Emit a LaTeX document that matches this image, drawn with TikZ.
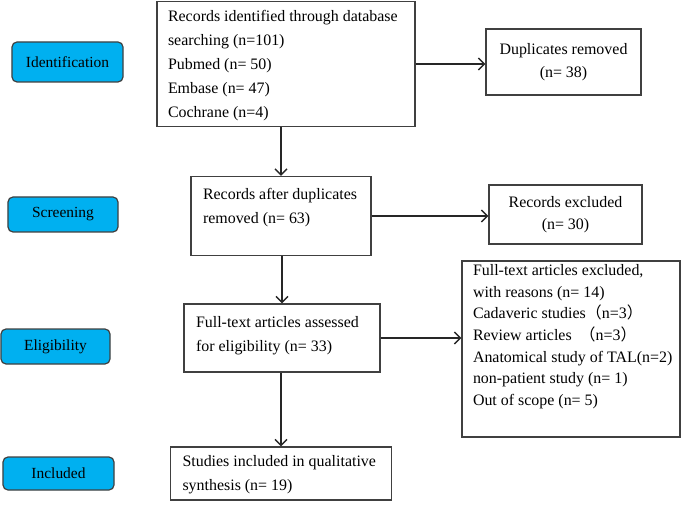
\documentclass[tikz,border=0pt]{standalone}
\usepackage{fontspec}
\setmainfont{Liberation Serif}
\newfontfamily\cjk{Noto Sans CJK SC}
\usetikzlibrary{arrows.meta}
\definecolor{stagecyan}{RGB}{0,176,240}
\definecolor{boxgray}{RGB}{64,64,64}
\newcommand{\lines}[1]{\begin{tabular}[t]{@{}l@{}}#1\end{tabular}}

\begin{document}
\begin{tikzpicture}[
		x = 1bp, y = -1bp, % pixel grid, y going down
		> = {Straight Barb[length=6bp, width=12bp]}, % open arrow head
		line width = 1.4bp, % line style
		font = \fontsize{16}{24}\selectfont
		]
		
		\tikzstyle{stage}=[
		draw = boxgray,
		fill = stagecyan,
		rounded corners = 5bp,
		line width = 1.2bp,
		font = \fontsize{15.5}{18}\selectfont
		]
		\tikzstyle{box}=[draw = boxgray, inner sep = 0pt, align = center, font = \fontsize{16}{22.5}\selectfont]
		\tikzstyle{txt}=[anchor = base west, inner sep = 0pt]
		\tikzstyle{flow}=[->, draw = black!85]
		
		\useasboundingbox (0,0) rectangle (685,510);
		
		% stages
		\node[stage, minimum width=111bp, minimum height=40bp] (st_ident) at (67.5,62) {Identification};
		\node[stage, minimum width=110bp, minimum height=35bp] (st_screen) at (63,214.5) {Screening};
		\node[stage, minimum width=109bp, minimum height=35bp] (st_elig) at (55.5,346.5) {Eligibility};
		\node[stage, minimum width=111bp, minimum height=33bp] (st_incl) at (58.5,473.5) {Included};
		
		% boxes
		\node[box, minimum width=258bp, minimum height=125bp] (rec_id) at (286,64) {};
		\node[box, minimum width=155bp, minimum height=66bp] (dup_rm) at (563.5,62) {Duplicates removed\\(n= 38)};
		\node[box, minimum width=180bp, minimum height=79bp] (rec_after) at (281,216) {};
		\node[box, minimum width=153bp, minimum height=59bp] (rec_excl) at (565.5,214.5) {Records excluded\\(n= 30)};
		\node[box, minimum width=196bp, minimum height=68bp] (full_text) at (282,338) {};
		\node[box, minimum width=218bp, minimum height=176bp] (full_excl) at (571,349) {};
		\node[box, minimum width=221bp, minimum height=53bp] (incl_syn) at (281,473.5) {};
		
		% texts in the boxes
		\node[txt] (rec_id_t) at ([shift={(11,21)}]rec_id.north west) {\lines{Records identified through database\\searching (n=101)\\Pubmed (n= 50)\\Embase (n= 47)\\Cochrane (n=4)}};
		\node[txt] (rec_after_t) at ([shift={(12,24)}]rec_after.north west) {\lines{Records after duplicates\\removed (n= 63)}};
		\node[txt] (full_text_t) at ([shift={(12,24)}]full_text.north west) {\lines{Full-text articles assessed\\for eligibility (n= 33)}};
		\node[txt, font=\fontsize{16}{21.8}\selectfont] (full_excl_t) at ([shift={(11,15)}]full_excl.north west) {\lines{Full-text articles excluded,\\with reasons (n= 14)\\Cadaveric studies{\cjk （}n=3{\cjk ）}\\Review articles \ {\cjk （}n=3{\cjk ）}\\Anatomical study of TAL(n=2)\\non-patient study (n= 1)\\Out of scope (n= 5)}};
		\node[txt] (incl_syn_t) at ([shift={(12,20)}]incl_syn.north west) {\lines{Studies included in qualitative\\synthesis (n= 19)}};
		
		% connectors
		\draw[flow] (rec_id) -- (rec_id -| dup_rm.west);
		\draw[flow] (rec_after.north |- rec_id.south) -- (rec_after.north);
		\draw[flow] (rec_after) -- (rec_after -| rec_excl.west);
		\draw[flow] (full_text.north |- rec_after.south) -- (full_text.north);
		\draw[flow] (full_text) -- (full_text -| full_excl.west);
		\draw[flow] (incl_syn.north |- full_text.south) -- (incl_syn.north);
		\end{tikzpicture}
\end{document}
